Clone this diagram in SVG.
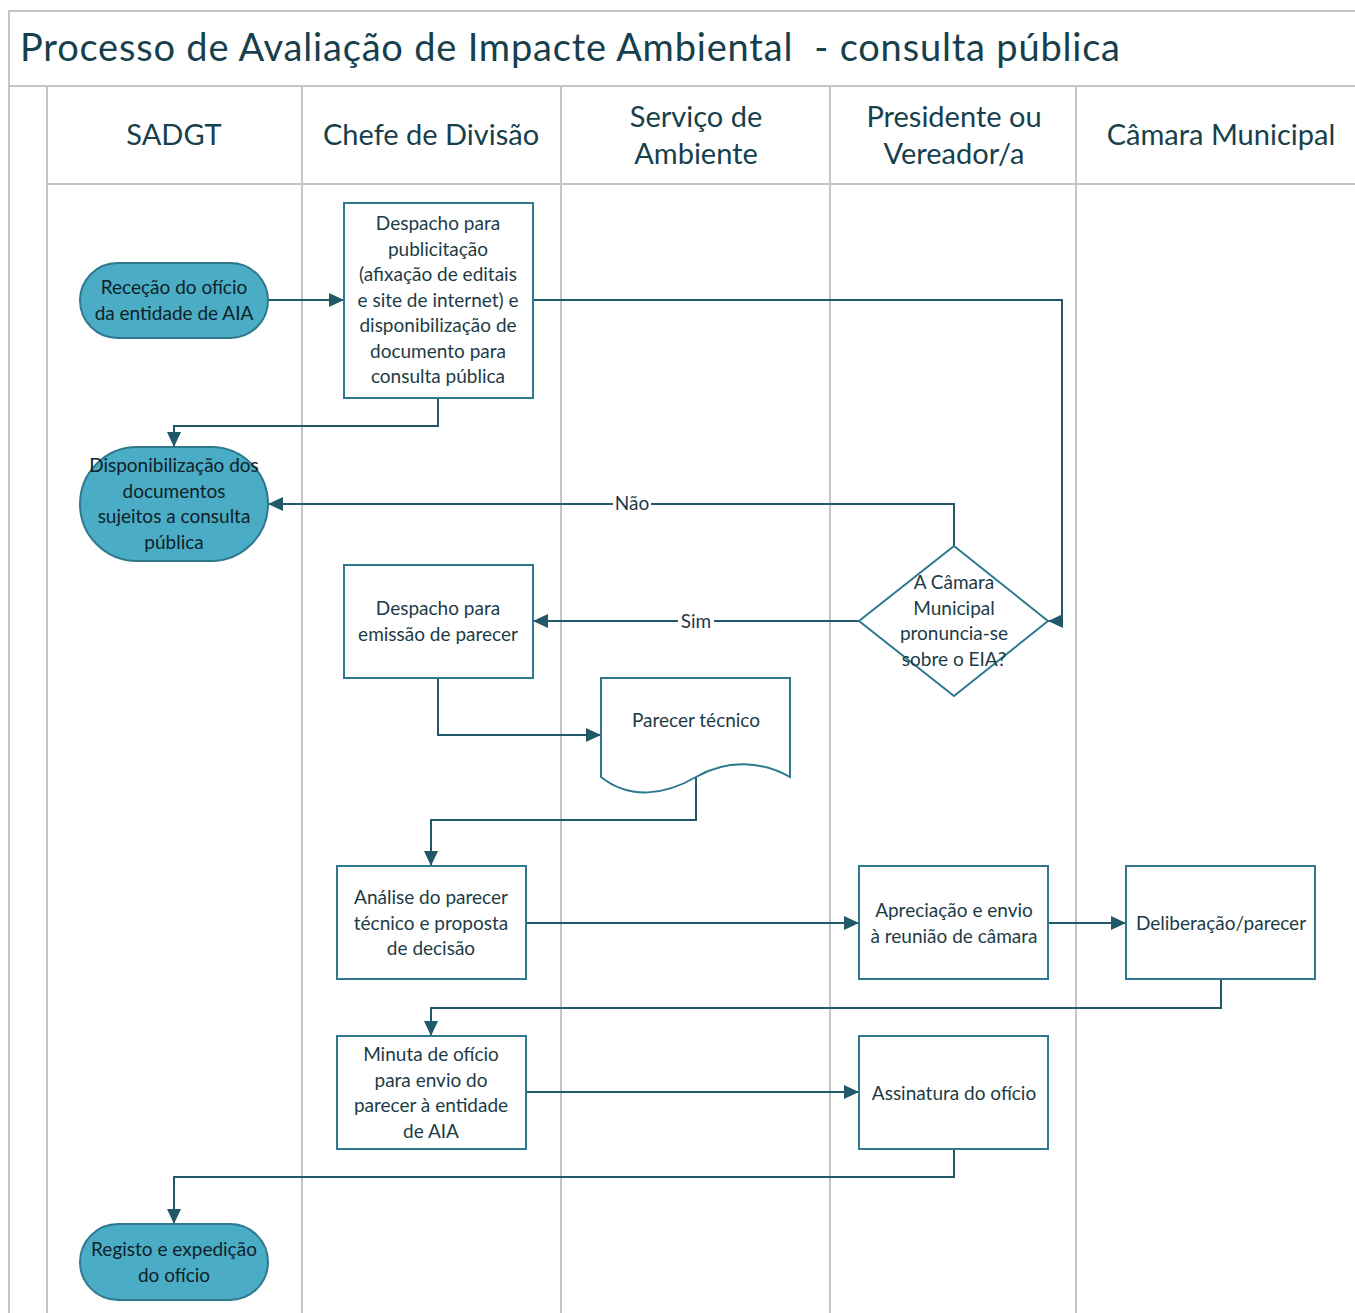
<svg xmlns="http://www.w3.org/2000/svg" width="1355" height="1313" viewBox="0 0 1355 1313">
<defs>
<style>
.frame{fill:none;stroke:#c4c4c4;stroke-width:2}
.title{font-family:Lato,"Liberation Sans",sans-serif;font-size:38px;fill:#173f4c}
.hdr{font-family:Lato,"Liberation Sans",sans-serif;font-size:29px;fill:#173f4c;text-anchor:middle}
.t{font-family:Lato,"Liberation Sans",sans-serif;font-size:19px;fill:#1d3b45;text-anchor:middle}
.box{fill:#ffffff;stroke:#2e7890;stroke-width:2}
.term{fill:#4bacc6;stroke:#2e7890;stroke-width:2}
.term-t{font-family:Lato,"Liberation Sans",sans-serif;font-size:19px;fill:#0f1f26;text-anchor:middle}
.c{fill:none;stroke:#215968;stroke-width:2}
.lbl{font-family:Lato,"Liberation Sans",sans-serif;font-size:19px;fill:#1d3b45;text-anchor:middle}
</style>
<marker id="ah" markerUnits="userSpaceOnUse" markerWidth="16" markerHeight="14" refX="15" refY="7" orient="auto">
<path d="M0,0 L15,7 L0,14 Z" fill="#215968"/>
</marker>
</defs>
<rect x="0" y="0" width="1355" height="1313" fill="#ffffff"/>
<g id="frame">
<path class="frame" d="M9,1313 V11 H1355"/>
<path class="frame" d="M9,86 H1355"/>
<path class="frame" d="M47,184 H1355"/>
<path class="frame" d="M47,86 V1313 M302,86 V1313 M561,86 V1313 M830,86 V1313 M1076,86 V1313"/>
<text class="title" x="20" y="61" xml:space="preserve" textLength="1100" lengthAdjust="spacing">Processo de Avaliação de Impacte Ambiental  - consulta pública</text>
<text class="hdr" x="174" y="145">SADGT</text>
<text class="hdr" x="431" y="145">Chefe de Divisão</text>
<text class="hdr" x="696" y="127">Serviço de</text>
<text class="hdr" x="696" y="164">Ambiente</text>
<text class="hdr" x="954" y="127">Presidente ou</text>
<text class="hdr" x="954" y="164">Vereador/a</text>
<text class="hdr" x="1221" y="145">Câmara Municipal</text>
</g>
<g id="connectors">
<path class="c" d="M268,300 H344" marker-end="url(#ah)"/>
<path class="c" d="M533,300 H1062 V621 H1048" marker-end="url(#ah)"/>
<path class="c" d="M438,398 V426 H174 V447" marker-end="url(#ah)"/>
<path class="c" d="M954,546 V504 H268" marker-end="url(#ah)"/>
<path class="c" d="M859,621 H533" marker-end="url(#ah)"/>
<path class="c" d="M438,678 V735 H601" marker-end="url(#ah)"/>
<path class="c" d="M696,777 V820 H431 V866" marker-end="url(#ah)"/>
<path class="c" d="M526,923 H859" marker-end="url(#ah)"/>
<path class="c" d="M1048,923 H1126" marker-end="url(#ah)"/>
<path class="c" d="M1221,979 V1008 H431 V1036" marker-end="url(#ah)"/>
<path class="c" d="M526,1092 H859" marker-end="url(#ah)"/>
<path class="c" d="M954,1149 V1177 H174 V1224" marker-end="url(#ah)"/>
<rect x="613" y="493" width="38" height="22" fill="#ffffff"/>
<text class="lbl" x="632" y="510">Não</text>
<rect x="678" y="610" width="36" height="22" fill="#ffffff"/>
<text class="lbl" x="696" y="628">Sim</text>
</g>
<g id="n1">
<rect class="term" x="80" y="263" width="188" height="75" rx="37.5"/>
<text class="term-t" x="174" y="294">Receção do ofício</text>
<text class="term-t" x="174" y="320">da entidade de AIA</text>
</g>
<g id="n2">
<rect class="box" x="344" y="203" width="189" height="195"/>
<text class="t" x="438" y="230">Despacho para</text>
<text class="t" x="438" y="255.5">publicitação</text>
<text class="t" x="438" y="281">(afixação de editais</text>
<text class="t" x="438" y="306.5">e site de internet) e</text>
<text class="t" x="438" y="332">disponibilização de</text>
<text class="t" x="438" y="357.5">documento para</text>
<text class="t" x="438" y="383">consulta pública</text>
</g>
<g id="n3">
<rect class="term" x="80" y="447" width="188" height="114" rx="57"/>
<text class="term-t" x="174" y="472">Disponibilização dos</text>
<text class="term-t" x="174" y="497.5">documentos</text>
<text class="term-t" x="174" y="523">sujeitos a consulta</text>
<text class="term-t" x="174" y="548.5">pública</text>
</g>
<g id="n4">
<path class="box" d="M954,546 L1048,621 L954,696 L859,621 Z"/>
<text class="t" x="954" y="589">A Câmara</text>
<text class="t" x="954" y="614.5">Municipal</text>
<text class="t" x="954" y="640">pronuncia-se</text>
<text class="t" x="954" y="665.5">sobre o EIA?</text>
</g>
<g id="n5">
<rect class="box" x="344" y="565" width="189" height="113"/>
<text class="t" x="438" y="615">Despacho para</text>
<text class="t" x="438" y="641">emissão de parecer</text>
</g>
<g id="n6">
<path class="box" d="M601,678 H790 V777 C762,761 727,759 696,777 C665,795 630,800 601,777 Z"/>
<text class="t" x="696" y="727">Parecer técnico</text>
</g>
<g id="n7">
<rect class="box" x="337" y="866" width="189" height="113"/>
<text class="t" x="431" y="904">Análise do parecer</text>
<text class="t" x="431" y="930">técnico e proposta</text>
<text class="t" x="431" y="955">de decisão</text>
</g>
<g id="n8">
<rect class="box" x="859" y="866" width="189" height="113"/>
<text class="t" x="954" y="917">Apreciação e envio</text>
<text class="t" x="954" y="943">à reunião de câmara</text>
</g>
<g id="n9">
<rect class="box" x="1126" y="866" width="189" height="113"/>
<text class="t" x="1221" y="930">Deliberação/parecer</text>
</g>
<g id="n10">
<rect class="box" x="337" y="1036" width="189" height="113"/>
<text class="t" x="431" y="1061">Minuta de ofício</text>
<text class="t" x="431" y="1087">para envio do</text>
<text class="t" x="431" y="1112">parecer à entidade</text>
<text class="t" x="431" y="1138">de AIA</text>
</g>
<g id="n11">
<rect class="box" x="859" y="1036" width="189" height="113"/>
<text class="t" x="954" y="1100">Assinatura do ofício</text>
</g>
<g id="n12">
<rect class="term" x="80" y="1224" width="188" height="76" rx="38"/>
<text class="term-t" x="174" y="1256">Registo e expedição</text>
<text class="term-t" x="174" y="1282">do ofício</text>
</g>
</svg>
